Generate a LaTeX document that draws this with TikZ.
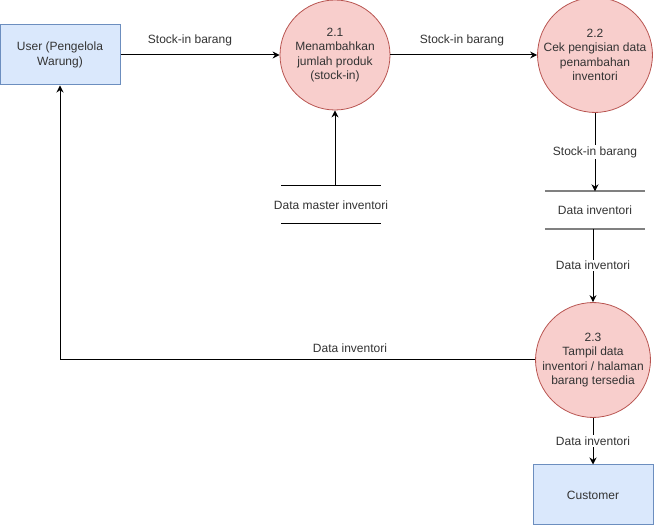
\documentclass[tikz,border=0pt]{standalone}
\usepackage{fontspec}
\setmainfont{Liberation Sans}
\usetikzlibrary{positioning,arrows.meta,calc}
\definecolor{blue1}{HTML}{DAE8FC}
\definecolor{blue2}{HTML}{6C8EBF}
\definecolor{red1}{HTML}{F8CECC}
\definecolor{red2}{HTML}{B85450}
\definecolor{gray1}{HTML}{808080}
\definecolor{text1}{HTML}{333333}

\begin{document}
\begin{tikzpicture}[
    x=1pt, y=-1pt,
    >={Stealth[length=7pt,width=7pt]},
    ent/.style={draw=blue2, fill=blue1, line width=1pt,
                minimum width=120pt, minimum height=60pt,
                align=center, text=text1,
                font=\fontsize{12}{14.5}\selectfont},
    proc/.style={circle, draw=red2, fill=red1, line width=0.8pt,
                 minimum size=110pt, inner sep=0pt,
                 align=center, text=text1,
                 font=\fontsize{12}{14.5}\selectfont},
    store/.style={minimum width=100pt, minimum height=38pt,
                  inner sep=0pt, text=text1,
                  font=\fontsize{12}{14.5}\selectfont},
    arr/.style={->, line width=1pt},
    lbl/.style={font=\fontsize{12}{14.5}\selectfont, text=text1,
                fill=white, inner sep=1.5pt},
]
\useasboundingbox (0,0) rectangle (654,526);

% entities
\node[ent] (user) at (60,55) {User (Pengelola\\Warung)};
\node[ent] (cust) at (593,495) {Customer};

% processes
\node[proc] (p21) at (335,55) {2.1\\Menambahkan\\jumlah produk\\(stock-in)};
\node[proc] (p22) at (595,55) {2.2\\Cek pengisian data\\penambahan\\inventori};
\node[proc] (p23) at (593,360) {2.3\\Tampil data\\inventori / halaman\\barang tersedia};

% data stores
\node[store] (ds1) at (331,205) {Data master inventori};
\draw[line width=1pt] ($(ds1.center)+(-50,-19)$) -- ($(ds1.center)+(50,-19)$);
\draw[line width=1pt] ($(ds1.center)+(-50,19)$) -- ($(ds1.center)+(50,19)$);

\node[store, minimum height=37pt] (ds2) at (595,210) {Data inventori};
\draw[gray1, line width=2pt] (ds2.north west) -- (ds2.north east);
\draw[gray1, line width=2pt] (ds2.south west) -- (ds2.south east);

% flows
\draw[arr] (user.east) -- (p21.west);
\node[lbl] (f1) at (190,40) {Stock-in barang};
\draw[arr] (p21.east) -- (p22.west);
\node[lbl] (f2) at (462,40) {Stock-in barang};

\draw[arr] (p21 |- ds1.north) -- (p21.south);

\draw[arr] (p22.south) -- node[lbl] (f3) {Stock-in barang} (p22 |- ds2.north);
\draw[arr] (p23 |- ds2.south) -- node[lbl] (f4) {Data inventori} (p23.north);

\draw[arr] (p23.west) -| (user.south);
\node[lbl] (f5) at (350,348) {Data inventori};

\draw[arr] (p23.south) -- node[lbl] (f6) {Data inventori} (cust.north);
\end{tikzpicture}
\end{document}
